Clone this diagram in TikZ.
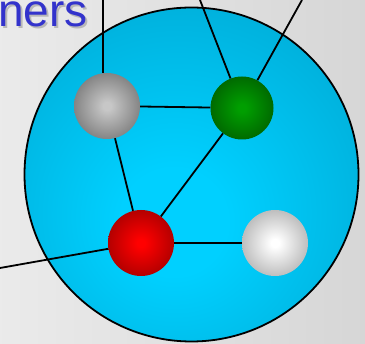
\documentclass[tikz,border=0pt]{standalone}
\usepackage{fontspec}
\setmainfont{Liberation Sans}
\usetikzlibrary{positioning}

\definecolor{netedge}{RGB}{0,148,188}
\definecolor{netcore}{RGB}{0,208,255}
\definecolor{labelblue}{RGB}{51,51,204}
\colorlet{ballin}{white}
\colorlet{ballout}{black}

\pgfdeclareradialshading{netshade}{\pgfpoint{-3bp}{-8bp}}{%
  color(0bp)=(netcore); color(8bp)=(netcore); color(52bp)=(netedge); color(75bp)=(netedge)}
\pgfdeclareradialshading[ballin,ballout]{sphere}{\pgfpoint{0bp}{0bp}}{%
  color(0bp)=(ballin); color(3bp)=(ballin); color(42bp)=(ballout); color(72bp)=(ballout)}

\begin{document}
\begin{tikzpicture}[
  x=1pt,y=-1pt,
  ball/.style 2 args={circle,inner sep=0pt,minimum size=66pt,
    /utils/exec={\colorlet{ballin}{#1}\colorlet{ballout}{#2}},shading=sphere},
  link/.style={line width=1.8pt,black},
  tag/.style={anchor=base east,inner sep=0pt,font=\fontsize{46}{46}\selectfont}
]
\clip (0,0) rectangle (365,344);
\useasboundingbox (0,0) rectangle (365,344);
\fill[left color=black!8,right color=black!16] (0,0) rectangle (365,344);

% label, cut at the left border
\node[tag,text=black!28] (shadow) at (90,29) {ners};
\node[tag,text=labelblue] (label) at (88,27) {ners};

% the network
\node[circle,draw,line width=1.8pt,minimum size=334pt,shading=netshade] (net) at (191.5,174.5) {};

\node[ball={black!22}{black!68}] (grey) at (107,106) {};
\node[ball={green!62!black}{green!26!black},minimum size=63pt] (green) at (242,108) {};
\node[ball={red}{red!48!black}] (red) at (141,243) {};
\node[ball={white}{black!45}] (white) at (275,243) {};

\coordinate (up1) at (103,0);
\coordinate (up2) at (200,0);
\coordinate (up3) at (302,0);
\coordinate (left) at (0,268);

\draw[link] (grey) -- (green);
\draw[link] (grey) -- (red);
\draw[link] (green) -- (red);
\draw[link] (red) -- (white);
\draw[link] (red) -- (left);
\draw[link] (grey.north -| up1) -- (up1);
\draw[link] (green) -- (up2);
\draw[link] (green) -- (up3);
\end{tikzpicture}
\end{document}
